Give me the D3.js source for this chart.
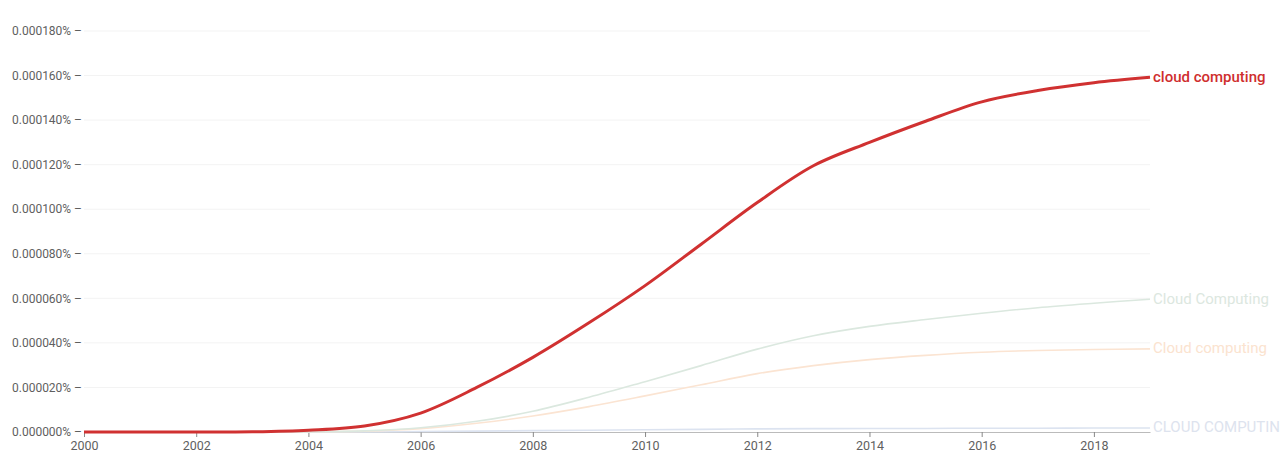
<!DOCTYPE html>
<html><head><meta charset="utf-8">
<script src="https://cdn.jsdelivr.net/npm/d3@7"></script>
<style>body{margin:0;background:#fff;overflow:hidden}svg{display:block;font-family:Roboto,"Noto Sans",sans-serif}</style>
</head><body><svg id="c" width="1280" height="462"></svg>
<script>
const years = d3.range(2000, 2020);
const yTicks = [0, 0.00002, 0.00004, 0.00006, 0.00008, 0.0001, 0.00012, 0.00014, 0.00016, 0.00018];
const xTicks = [2000, 2002, 2004, 2006, 2008, 2010, 2012, 2014, 2016, 2018];
const seriesNames = ["CLOUD COMPUTING", "Cloud computing", "Cloud Computing", "cloud computing"];
const seriesColors = ["#dce3f0", "#fbe4d2", "#dbe8df", "#d03131"];
const labelColors = ["#dde3ee", "#fbe3cf", "#dce7e0", "#cf2e2e"];
const upperAll = [0,0,0,0,0,0,0.0000002,0.0000004,0.0000006,0.0000008,0.000001,0.0000012,0.0000014,0.0000015,0.0000016,0.0000016,0.0000017,0.0000017,0.0000018,0.0000018];
const capFirst = [0,0,0,0,0.0000001,0.0000004,0.0000015,0.0000039,0.0000072,0.0000114,0.0000162,0.0000212,0.0000262,0.0000298,0.0000325,0.0000344,0.0000358,0.0000366,0.000037,0.0000373];
const capBoth = [0,0,0,0,0.0000001,0.0000005,0.0000019,0.0000048,0.0000093,0.0000156,0.0000226,0.0000298,0.0000372,0.0000432,0.0000474,0.0000505,0.0000533,0.0000558,0.0000578,0.0000596];
const lower = [0,0,0,0.0000001,0.0000008,0.0000027,0.0000085,0.0000200,0.0000335,0.000049,0.0000657,0.0000843,0.000103,0.0001195,0.000130,0.0001395,0.0001482,0.0001533,0.0001568,0.0001592];
const seriesValues = [upperAll, capFirst, capBoth, lower];

const svg = d3.select("#c");
const x = d3.scaleLinear().domain([2000, 2019]).range([84, 1150]);
const y = d3.scaleLinear().domain([0, 0.00018]).range([432, 31]);

svg.append("g").selectAll("line").data(yTicks.slice(1)).join("line")
  .attr("x1", 84).attr("x2", 1150).attr("y1", d => y(d)).attr("y2", d => y(d))
  .attr("stroke", "#f3f3f3").attr("stroke-width", 1);

svg.append("g").selectAll("text").data(yTicks).join("text")
  .attr("x", 82).attr("y", d => y(d)).attr("dy", "0.35em").attr("text-anchor", "end")
  .attr("font-size", 12).attr("fill", "#5f5f5f")
  .text(d => d.toFixed(6) + "% \u2013");

const xa = svg.append("g").attr("transform", "translate(0,432)")
  .call(d3.axisBottom(x).tickValues(xTicks).tickFormat(d3.format("d")).tickSize(5).tickSizeOuter(0));
xa.select(".domain").attr("stroke", "#bbb");
xa.selectAll(".tick line").attr("stroke", "#888");
xa.selectAll(".tick text").attr("font-size", 12.5).attr("fill", "#5f5f5f").attr("dy", "0.8em").attr("font-family", "Roboto, sans-serif");

const line = d3.line().x((d, i) => x(years[i])).y(d => y(d)).curve(d3.curveCatmullRom.alpha(0.5));
seriesValues.forEach((vals, k) => {
  svg.append("path").attr("d", line(vals)).attr("fill", "none")
    .attr("stroke", seriesColors[k]).attr("stroke-width", k === 3 ? 3 : 1.6)
    .attr("stroke-linejoin", "round");
  svg.append("text").attr("x", 1153).attr("y", y(vals[vals.length - 1])).attr("dy", "0.3em")
    .attr("font-size", 15).attr("font-weight", k === 3 ? 500 : 400)
    .attr("fill", labelColors[k]).text(seriesNames[k]);
});
</script></body></html>
